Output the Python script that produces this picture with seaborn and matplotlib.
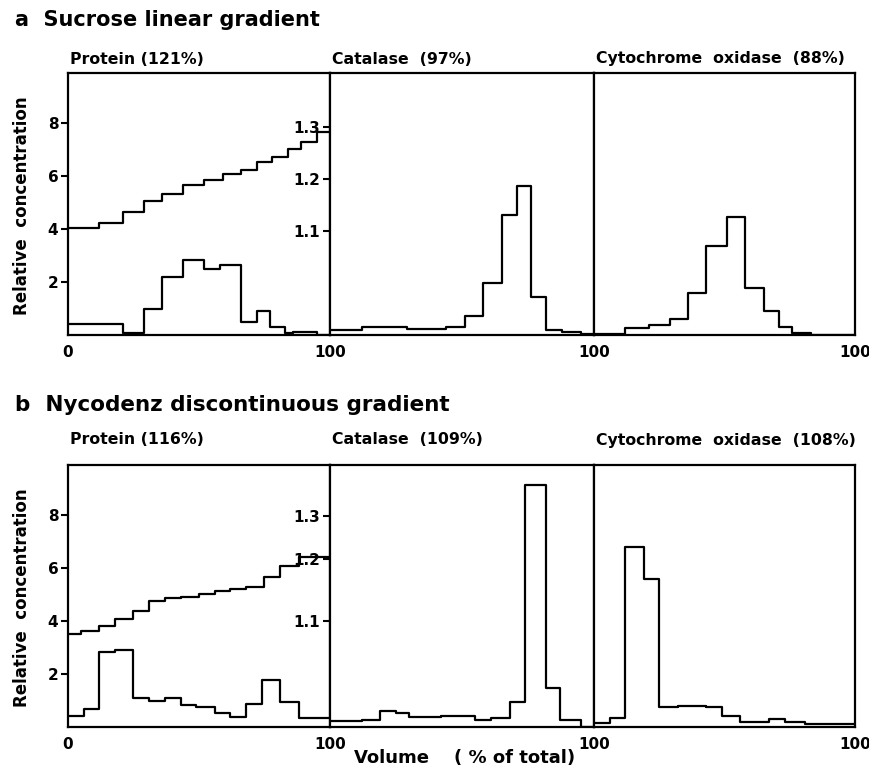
import matplotlib
matplotlib.use('Agg')
import matplotlib.pyplot as plt
import seaborn as sns

# fraction boundaries (% of total volume) and relative concentrations
# a: sucrose linear gradient
a_grad_edges = [0, 12, 21, 29, 36, 44, 52, 59, 66, 72, 78, 84, 89, 95, 100]
a_grad_vals = [4.04, 4.25, 4.66, 5.05, 5.33, 5.65, 5.87, 6.1, 6.25, 6.54, 6.73, 7.02, 7.3, 7.68]
a_prot_edges = [0, 21, 29, 36, 44, 52, 58, 66, 72, 77, 83, 86, 95, 100]
a_prot_vals = [0.43, 0.06, 0.99, 2.2, 2.83, 2.51, 2.65, 0.51, 0.9, 0.29, 0.06, 0.1, 0.0]
a_cat_edges = [0, 12, 29, 44, 51, 58, 65, 71, 76, 82, 88, 95, 100]
a_cat_vals = [0.2, 0.3, 0.22, 0.32, 0.70, 1.97, 4.55, 5.62, 1.44, 0.2, 0.1, 0.02]
a_cyt_edges = [0, 12, 21, 29, 36, 43, 51, 58, 65, 71, 76, 83, 100]
a_cyt_vals = [0.05, 0.26, 0.36, 0.62, 1.57, 3.35, 4.45, 1.79, 0.9, 0.32, 0.07, 0.0]
a_dens_pos = [3.94, 5.89, 7.85]

# b: nycodenz discontinuous gradient
b_grad_edges = [0, 5, 12, 18, 25, 31, 37, 43, 50, 56, 62, 68, 75, 81, 88, 100]
b_grad_vals = [3.5, 3.62, 3.81, 4.07, 4.39, 4.76, 4.89, 4.93, 5.02, 5.14, 5.22, 5.29, 5.65, 6.1, 6.41]
b_prot_edges = [0, 6, 12, 18, 25, 31, 37, 43, 49, 56, 62, 68, 74, 81, 88, 100]
b_prot_vals = [0.43, 0.68, 2.84, 2.92, 1.09, 1.0, 1.09, 0.83, 0.77, 0.54, 0.39, 0.86, 1.78, 0.94, 0.35]
b_cat_edges = [0, 12, 19, 25, 30, 42, 55, 61, 68, 74, 82, 87, 95, 100]
b_cat_vals = [0.24, 0.28, 0.6, 0.52, 0.38, 0.42, 0.26, 0.33, 0.94, 9.16, 1.49, 0.26, 0.0]
b_cyt_edges = [0, 6, 12, 19, 25, 32, 43, 49, 56, 67, 73, 81, 100]
b_cyt_vals = [0.14, 0.33, 6.79, 5.61, 0.75, 0.81, 0.75, 0.42, 0.2, 0.29, 0.2, 0.12]
b_dens_pos = [4.02, 6.36, 7.96]

dens_labels = ['1.1', '1.2', '1.3']
a_titles = ['Protein (121%)', 'Catalase  (97%)', 'Cytochrome  oxidase  (88%)']
b_titles = ['Protein (116%)', 'Catalase  (109%)', 'Cytochrome  oxidase  (108%)']

sns.set_style('ticks')
plt.rcParams['font.family'] = ['DejaVu Sans']
plt.rcParams['font.weight'] = 'bold'
plt.rcParams['text.color'] = 'black'
plt.rcParams['xtick.color'] = 'black'
plt.rcParams['ytick.color'] = 'black'
plt.rcParams['axes.labelcolor'] = 'black'

W, H = 870, 772
fig = plt.figure(figsize=(W / 100, H / 100), dpi=100)


def box(x0, y0, x1, y1):
    return [x0 / W, 1 - y1 / H, (x1 - x0) / W, (y1 - y0) / H]


def step(ax, edges, vals):
    sns.lineplot(x=edges, y=vals + [vals[-1]], drawstyle='steps-post',
                 color='black', lw=1.6, ax=ax, estimator=None, sort=False)


def row(y0, y1, grad, prot, cat, cyt, dens_pos, titles, ty):
    xs = [(68, 330), (330, 594), (594, 855)]
    axes = [fig.add_axes(box(a, y0, b, y1)) for a, b in xs]
    step(axes[0], *grad)
    step(axes[0], *prot)
    step(axes[1], *cat)
    step(axes[2], *cyt)
    for ax in axes:
        ax.set_xlim(0, 100)
        ax.set_ylim(0, 9.9)
        ax.set_xlabel('')
        ax.set_ylabel('')
        for s in ax.spines.values():
            s.set_visible(True)
            s.set_linewidth(1.6)
            s.set_color('black')
        ax.tick_params(axis='x', length=0, pad=7, labelsize=11)
        ax.tick_params(axis='y', length=5, width=1.5, pad=2, labelsize=11)
    axes[0].set_xticks([0, 100])
    axes[1].set_xticks([100])
    axes[2].set_xticks([100])
    axes[0].set_yticks([2, 4, 6, 8])
    axes[1].set_yticks(dens_pos)
    axes[1].set_yticklabels(dens_labels)
    axes[2].set_yticks([])
    for (a, b), t in zip(xs, titles):
        fig.text((a + 2) / W, 1 - ty / H, t, fontsize=11.3, va='center', ha='left')
    fig.text(22 / W, 1 - ((y0 + y1) / 2 + 2) / H, 'Relative  concentration',
             rotation=90, fontsize=12, ha='center', va='center')
    return axes


row(73, 335, (a_grad_edges, a_grad_vals), (a_prot_edges, a_prot_vals),
    (a_cat_edges, a_cat_vals), (a_cyt_edges, a_cyt_vals), a_dens_pos, a_titles, 59)
row(465, 727, (b_grad_edges, b_grad_vals), (b_prot_edges, b_prot_vals),
    (b_cat_edges, b_cat_vals), (b_cyt_edges, b_cyt_vals), b_dens_pos, b_titles, 440)

fig.text(15 / W, 1 - 20 / H, 'a  Sucrose linear gradient', fontsize=15, va='center')
fig.text(15 / W, 1 - 405 / H, 'b  Nycodenz discontinuous gradient', fontsize=15.5, va='center')
fig.text(465 / W, 1 - 758 / H, 'Volume    ( % of total)', fontsize=13, ha='center', va='center')

fig.savefig('out.png', dpi=100, facecolor='white')
